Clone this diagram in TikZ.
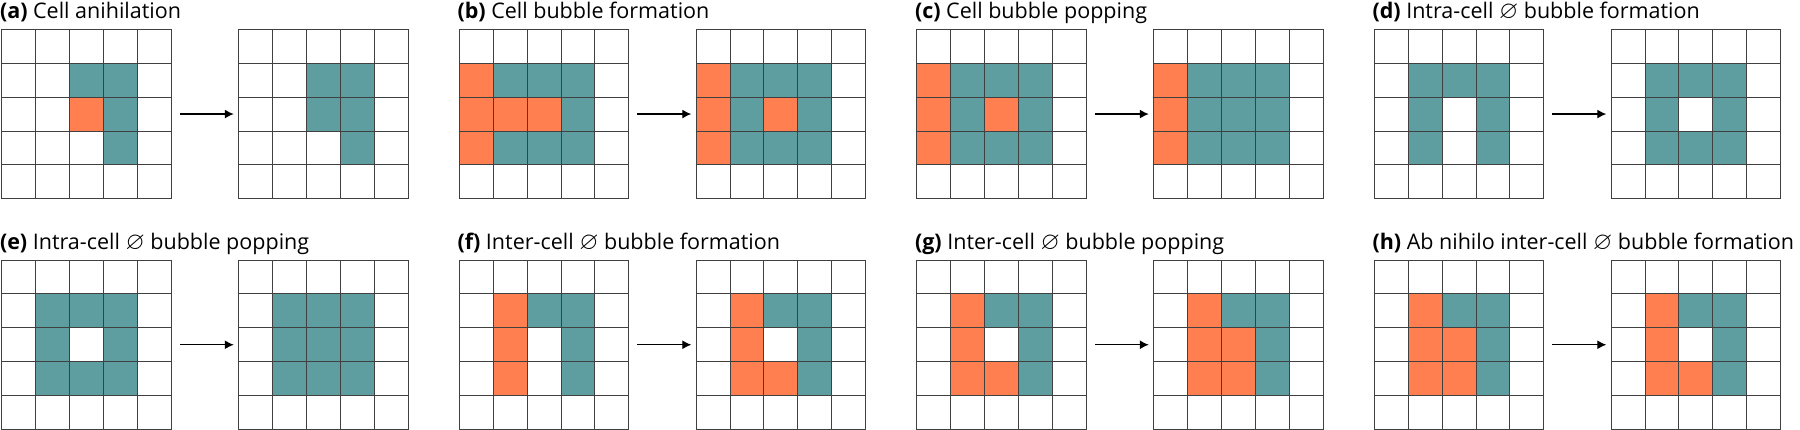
\documentclass[tikz,border=0pt]{standalone}
\usepackage{amssymb}
\usepackage{fontspec}
\setmainfont{Open Sans}
\usetikzlibrary{arrows.meta}
\definecolor{tealc}{RGB}{95,158,160}
\definecolor{orangec}{RGB}{255,127,80}
\def\cs{33.9}
\tikzset{
  gridline/.style={draw=black!75, line width=0.9pt},
  tealfill/.style={fill=tealc},
  orangefill/.style={fill=orangec},
  gridbox/.style={inner sep=0pt, minimum width=169.5pt, minimum height=169.5pt},
  arr/.style={line width=1.3pt, -{Latex[length=9pt,width=9pt]}},
  lbl/.style={anchor=base west, inner sep=0pt, font=\fontsize{21.5}{25}\selectfont}
}
\newcommand\es{\scalebox{1.15}{$\varnothing$}}
\newcommand\cagrid[5]{%
  \begin{scope}[shift={(#2,#3)}]
    \def\tmpo{#4}\ifx\tmpo\empty\else
    \foreach \r/\c in {#4} {\fill[orangefill] (\c*\cs,\r*\cs) rectangle ++(\cs,\cs);}\fi
    \def\tmpt{#5}\ifx\tmpt\empty\else
    \foreach \r/\c in {#5} {\fill[tealfill] (\c*\cs,\r*\cs) rectangle ++(\cs,\cs);}\fi
    \foreach \i in {0,...,5} {
      \draw[gridline] (\i*\cs,0) -- (\i*\cs,5*\cs);
      \draw[gridline] (0,\i*\cs) -- (5*\cs,\i*\cs);
    }
  \end{scope}
  \node[gridbox] (#1) at (#2+84.75,#3+84.75) {};
}
\newcommand\capanel[8]{% #1 id, #2 x, #3 y(top), #4 label, #5 Lorange, #6 Lteal, #7 Rorange, #8 Rteal
  \node[lbl] (lab#1) at (#2-2,#3-10.3) {#4};
  \cagrid{L#1}{#2}{#3}{#5}{#6}
  \cagrid{R#1}{#2+236.8}{#3}{#7}{#8}
  \draw[arr] ([xshift=8.3pt]L#1.east) -- ([xshift=-4.6pt]R#1.west);
}
\begin{document}
\begin{tikzpicture}[x=1pt,y=-1pt]
\useasboundingbox (0,0) rectangle (1800,430);
% row 1
\capanel{a}{1.8}{29.3}{\textbf{(a)} Cell anihilation}
  {2/2}{1/2,1/3,2/3,3/3}
  {}{1/2,1/3,2/2,2/3,3/3}
\capanel{b}{459.3}{29.3}{\textbf{(b)} Cell bubble formation}
  {1/0,2/0,2/1,2/2,3/0}{1/1,1/2,1/3,2/3,3/1,3/2,3/3}
  {1/0,2/0,3/0,2/2}{1/1,1/2,1/3,2/1,2/3,3/1,3/2,3/3}
\capanel{c}{916.8}{29.3}{\textbf{(c)} Cell bubble popping}
  {1/0,2/0,3/0,2/2}{1/1,1/2,1/3,2/1,2/3,3/1,3/2,3/3}
  {1/0,2/0,3/0}{1/1,1/2,1/3,2/1,2/2,2/3,3/1,3/2,3/3}
\capanel{d}{1374.3}{29.3}{\textbf{(d)} Intra-cell \es\ bubble formation}
  {}{1/1,1/2,1/3,2/1,2/3,3/1,3/3}
  {}{1/1,1/2,1/3,2/1,2/3,3/1,3/2,3/3}
% row 2
\capanel{e}{1.8}{260}{\textbf{(e)} Intra-cell \es\ bubble popping}
  {}{1/1,1/2,1/3,2/1,2/3,3/1,3/2,3/3}
  {}{1/1,1/2,1/3,2/1,2/2,2/3,3/1,3/2,3/3}
\capanel{f}{459.3}{260}{\textbf{(f)} Inter-cell \es\ bubble formation}
  {1/1,2/1,3/1}{1/2,1/3,2/3,3/3}
  {1/1,2/1,3/1,3/2}{1/2,1/3,2/3,3/3}
\capanel{g}{916.8}{260}{\textbf{(g)} Inter-cell \es\ bubble popping}
  {1/1,2/1,3/1,3/2}{1/2,1/3,2/3,3/3}
  {1/1,2/1,2/2,3/1,3/2}{1/2,1/3,2/3,3/3}
\capanel{h}{1374.3}{260}{\textbf{(h)} Ab nihilo inter-cell \es\ bubble formation}
  {1/1,2/1,2/2,3/1,3/2}{1/2,1/3,2/3,3/3}
  {1/1,2/1,3/1,3/2}{1/2,1/3,2/3,3/3}
\end{tikzpicture}
\end{document}
